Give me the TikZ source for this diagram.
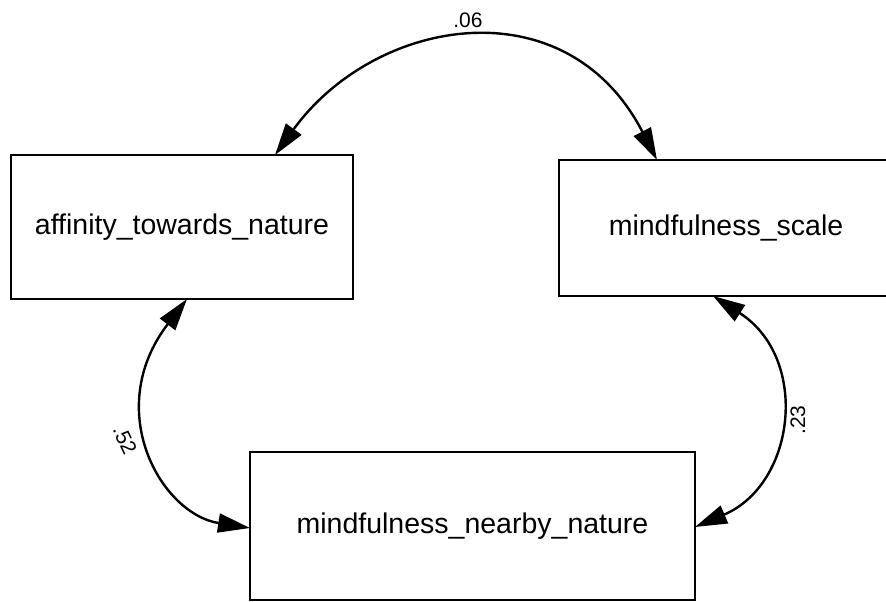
\documentclass[tikz,border=0pt]{standalone}
\usepackage{fontspec}
\setmainfont{Liberation Sans}
\usetikzlibrary{arrows.meta}
\begin{document}
\begin{tikzpicture}[x=1pt,y=-1pt,
  varbox/.style={draw=black, line width=2.4pt, rectangle, outer sep=0pt, inner sep=0pt,
    font=\fontsize{28.5}{34}\selectfont},
  cov/.style={line width=2.4pt, {Triangle[length=32pt,width=19pt]}-{Triangle[length=32pt,width=19pt]}},
  coef/.style={font=\fontsize{21}{25}\selectfont, inner sep=0pt}]
\useasboundingbox (0,0) rectangle (886,602);
\begin{scope}
\clip (0,0) rectangle (886,602);
\node[varbox, minimum width=342pt, minimum height=144pt] (aff) at (182,227) {affinity\_towards\_nature};
\node[varbox, minimum width=334pt, minimum height=136pt] (scl) at (726,228) {mindfulness\_scale};
\node[varbox, minimum width=445pt, minimum height=148pt] (near) at (472.5,526) {mindfulness\_nearby\_nature};

\coordinate (a1) at ([xshift=93pt]aff.north);
\coordinate (s1) at ([xshift=-69pt]scl.north);
\coordinate (a2) at ([xshift=5pt]aff.south);
\coordinate (n1) at ([yshift=-2pt]near.west);
\coordinate (s2) at ([xshift=-13pt]scl.south);
\coordinate (n2) at ([yshift=-1pt]near.east);

\draw[cov] (a1) .. controls +(100,-138) and +(-91,-176) .. (s1);
\draw[cov] (a2) .. controls +(-85,111) and +(-89,-14) .. (n1);
\draw[cov] (s2) .. controls +(97,62) and +(101,-43) .. (n2);

\node[coef] (l06) at (468,20) {.06};
\node[coef, rotate=-65] (l52) at (125,440) {.52};
\node[coef, rotate=90] (l23) at (798,420) {.23};
\end{scope}
\end{tikzpicture}
\end{document}
